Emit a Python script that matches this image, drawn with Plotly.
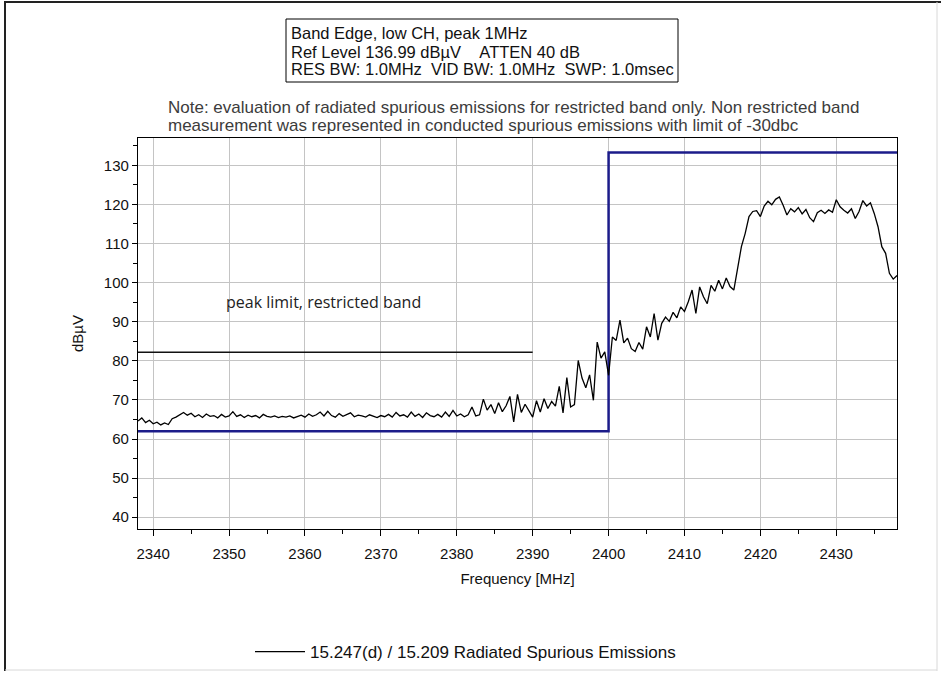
import plotly.graph_objects as go

# Spectrum sweep, 2338-2438 MHz, 0.5 MHz steps (dBuV)
freq_start = 2338.0
freq_step = 0.5
level_dbuv = [
    64.6, 65.4, 64.2, 64.8, 63.9, 64.3, 63.6, 64.1, 63.7, 65.2,
    65.6, 66.3, 66.8, 66.1, 66.6, 65.7, 66.2, 65.5, 66.4, 65.8,
    66.0, 65.4, 66.3, 65.6, 65.9, 67.0, 65.8, 66.2, 65.5, 66.1,
    65.7, 66.0, 65.4, 66.3, 65.8, 65.6, 65.9, 65.5, 65.8, 65.6,
    65.9, 65.4, 65.7, 66.1, 65.6, 66.4, 65.8, 66.2, 66.9, 65.9,
    67.1, 66.0, 65.6, 66.5, 65.8, 66.3, 66.7, 65.7, 66.1, 65.9,
    65.6, 66.2, 65.8, 65.5, 66.0, 65.7, 66.3, 65.6, 66.8, 65.9,
    66.2, 65.6, 66.9, 65.8, 66.4, 65.5, 66.7, 66.0, 65.7, 66.3,
    65.6, 66.9, 65.8, 67.3, 65.9, 66.4, 65.7, 66.2, 68.2, 65.9,
    66.2, 70.2, 67.4, 68.8, 66.5, 69.3, 67.0, 68.5, 70.9, 64.4,
    71.4, 66.8, 68.9, 67.2, 65.6, 69.8, 66.9, 70.3, 67.8, 69.6,
    68.4, 73.5, 66.7, 75.7, 68.2, 68.8, 80.1, 75.6, 73.1, 76.4,
    69.9, 84.8, 80.7, 82.3, 76.3, 86.1, 85.2, 90.4, 84.6, 85.8,
    83.1, 82.4, 84.7, 83.0, 88.7, 86.1, 92.1, 85.3, 89.6, 91.2,
    90.1, 92.4, 91.0, 93.8, 92.6, 95.1, 98.1, 92.1, 98.9, 96.4,
    94.6, 99.3, 97.8, 100.6, 98.4, 101.2, 99.0, 98.1, 104.1, 109.2,
    112.6, 116.9, 118.2, 118.4, 116.9, 119.6, 120.8, 119.9, 121.3, 121.9,
    119.8, 117.3, 118.9, 118.1, 119.2, 117.6, 118.7, 116.6, 115.6, 117.9,
    118.5, 117.7, 118.6, 118.0, 121.2, 119.4, 118.5, 117.8, 118.9, 116.4,
    118.2, 121.0, 119.6, 120.4, 117.7, 114.3, 109.2, 107.5, 102.4, 100.9,
    101.8,
]
freq_mhz = [freq_start + freq_step * i for i in range(len(level_dbuv))]

# Limit lines
band_limit_x = [2338.0, 2400.0, 2400.0, 2438.0]
band_limit_y = [62.0, 62.0, 133.3, 133.3]
peak_limit_x = [2338.0, 2390.0]
peak_limit_y = [82.2, 82.2]

x_range = [2338.0, 2438.0]
y_range = [36.99, 136.99]

header_lines = [
    "Band Edge, low CH, peak 1MHz",
    "Ref Level 136.99 dBµV\u00a0\u00a0\u00a0\u00a0ATTEN 40 dB",
    "RES BW: 1.0MHz\u00a0 VID BW: 1.0MHz\u00a0 SWP: 1.0msec",
]
note_lines = [
    "Note: evaluation of radiated spurious emissions for restricted band only. Non restricted band",
    "measurement was represented in conducted spurious emissions with limit of -30dbc",
]

W, H = 945, 673
ML, MR, MT, MB = 138, 48, 138, 144
PW = W - ML - MR
PH = H - MT - MB


def px(xp):
    return (xp - ML) / PW


def py(yp):
    return (H - MB - yp) / PH


FONT = "Liberation Sans, Arial, sans-serif"

fig = go.Figure()

fig.add_trace(go.Scatter(
    x=band_limit_x, y=band_limit_y, mode="lines",
    line=dict(color="#1c1c8a", width=2.5), showlegend=False, hoverinfo="skip",
))
fig.add_trace(go.Scatter(
    x=peak_limit_x, y=peak_limit_y, mode="lines",
    line=dict(color="#111111", width=1.5), showlegend=False, hoverinfo="skip",
))
fig.add_trace(go.Scatter(
    x=freq_mhz, y=level_dbuv, mode="lines",
    name="15.247(d) / 15.209 Radiated Spurious Emissions",
    line=dict(color="#000000", width=1.3),
))

axis_common = dict(
    showline=True, linecolor="#000000", linewidth=1.2, mirror=True,
    ticks="outside", tickcolor="#000000", tickwidth=1,
    showgrid=True, gridcolor="#c4c4c4", gridwidth=1,
    zeroline=False,
    tickfont=dict(family=FONT, size=15, color="#111111"),
    title_font=dict(family=FONT, size=15, color="#111111"),
)

fig.update_xaxes(
    range=x_range, tick0=2340, dtick=10, ticklen=6, ticklabelstandoff=5,
    minor=dict(dtick=5, tick0=2335, ticks="outside", ticklen=4, tickcolor="#000000", showgrid=False),
    title_text="Frequency [MHz]", title_standoff=12,
    **axis_common,
)
fig.update_yaxes(
    range=y_range, tick0=40, dtick=10, ticklen=5,
    minor=dict(dtick=5, tick0=35, ticks="outside", ticklen=4, tickcolor="#000000", showgrid=False),
    title_text="dBµV", title_standoff=16,
    **axis_common,
)

# Header box with sweep settings
fig.add_shape(type="rect", xref="paper", yref="paper",
              x0=px(286), x1=px(678), y0=py(19), y1=py(82),
              line=dict(color="#000000", width=1), fillcolor="#ffffff", layer="above")
for i, line in enumerate(header_lines):
    fig.add_annotation(
        text=line, xref="paper", yref="paper", x=px(289), y=py(33.5 + 18 * i),
        xanchor="left", yanchor="middle", align="left", showarrow=False,
        font=dict(family=FONT, size=16.5, color="#111111"),
    )

for i, line in enumerate(note_lines):
    fig.add_annotation(
        text=line, xref="paper", yref="paper", x=px(166), y=py(107 + 19 * i),
        xanchor="left", yanchor="middle", align="left", showarrow=False,
        font=dict(family=FONT, size=17, color="#3c3c3c"),
    )

fig.add_annotation(
    text="peak limit, restricted band", xref="x", yref="y", x=2362.4, y=95.0,
    showarrow=False, font=dict(family="Open Sans, sans-serif", size=16, color="#222222"),
)

# Window frame around the whole chart
fig.add_shape(type="line", xref="paper", yref="paper",
              x0=px(4), x1=px(941), y0=py(2), y1=py(2), line=dict(color="#222222", width=2))
fig.add_shape(type="line", xref="paper", yref="paper",
              x0=px(5), x1=px(5), y0=py(2), y1=py(671), line=dict(color="#222222", width=2))
fig.add_shape(type="line", xref="paper", yref="paper",
              x0=px(937), x1=px(937), y0=py(2), y1=py(671), line=dict(color="#d8d8d8", width=1))
fig.add_shape(type="line", xref="paper", yref="paper",
              x0=px(5), x1=px(937), y0=py(670), y1=py(670), line=dict(color="#d8d8d8", width=1))

fig.update_layout(
    width=W, height=H,
    margin=dict(l=ML, r=MR, t=MT, b=MB, autoexpand=False),
    paper_bgcolor="#ffffff", plot_bgcolor="#ffffff",
    font=dict(family=FONT, size=15, color="#111111"),
    showlegend=True,
    legend=dict(
        orientation="h", x=px(250), y=py(652), xanchor="left", yanchor="middle",
        itemwidth=50,
        font=dict(family=FONT, size=17, color="#111111"),
        bgcolor="rgba(0,0,0,0)",
    ),
)

fig.write_html("out.html")
